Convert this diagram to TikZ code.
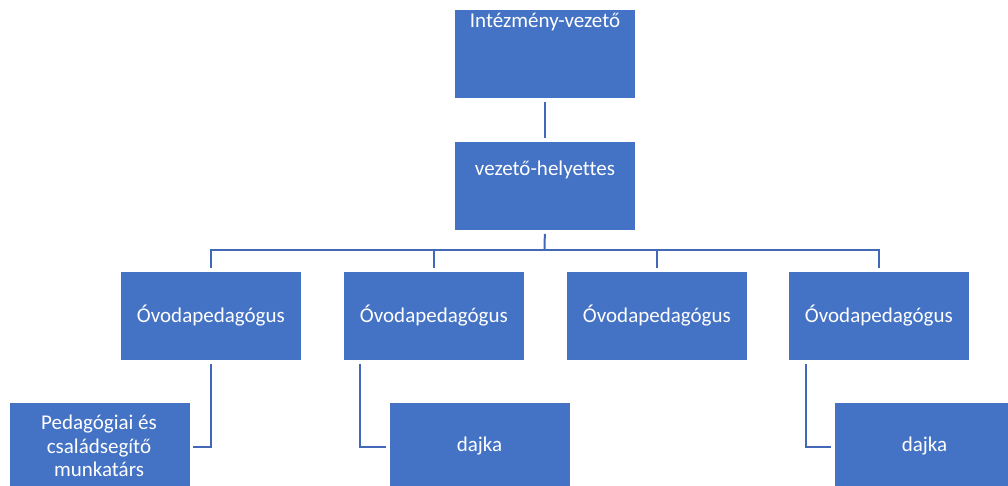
\documentclass[tikz,border=0pt]{standalone}
\usepackage{fontspec}
\setmainfont{Carlito}[Ligatures={NoCommon}]
\definecolor{boxblue}{HTML}{4472C4}
\definecolor{lineblue}{HTML}{4169B8}
\tikzset{
  orgbox/.style={draw=white, line width=0.8pt, fill=boxblue, minimum width=181pt, minimum height=89pt, inner sep=0pt, anchor=north west},
  boxtext/.style={text=white, font=\fontsize{21}{24}\selectfont, align=center, inner sep=0pt},
  conn/.style={draw=lineblue, line width=2pt}
}
\begin{document}
\begin{tikzpicture}[x=1pt,y=-1pt]
\useasboundingbox (0,0) rectangle (1008,486);
\clip (0,0) rectangle (1008,486);
% boxes
\node[orgbox] (top) at (454,9.5) {};
\node[orgbox] (vh) at (454,141) {};
\node[orgbox] (o1) at (120,271) {};
\node[orgbox] (o2) at (343,271) {};
\node[orgbox] (o3) at (566,271) {};
\node[orgbox] (o4) at (788,271) {};
\node[orgbox] (p1) at (8.5,402) {};
\node[orgbox] (d1) at (389,402) {};
\node[orgbox] (d2) at (834,402) {};
% texts
\node[boxtext] (ttop) at (545,22) {Intézmény-vezető};
\node[boxtext] (tvh) at (545,170) {vezető-helyettes};
\node[boxtext] (to1) at (o1.center) {Óvodapedagógus};
\node[boxtext] (to2) at (o2.center) {Óvodapedagógus};
\node[boxtext] (to3) at (o3.center) {Óvodapedagógus};
\node[boxtext] (to4) at (o4.center) {Óvodapedagógus};
\node[boxtext, font=\fontsize{21}{23.5}\selectfont] (tp1) at (99,446) {Pedagógiai és\\családsegítő\\munkatárs};
\node[boxtext] (td1) at (479.5,446) {dajka};
\node[boxtext] (td2) at (924.5,446) {dajka};
% connectors
\coordinate (bus) at (544.5,250);
\draw[conn, shorten <=3pt, shorten >=3pt] (top.south) -- (vh.north);
\draw[conn, shorten <=3pt] (vh.south) -- (bus);
\draw[conn, shorten <=3pt, shorten >=3pt] (o1.north) |- (bus) -| (o4.north);
\draw[conn, shorten >=3pt] (bus -| o2.north) -- (o2.north);
\draw[conn, shorten >=3pt] (bus -| o3.north) -- (o3.north);
\coordinate (c1) at (210.5,446.5);
\coordinate (c2) at (360,446.5);
\coordinate (c3) at (805.5,446.5);
\draw[conn, shorten <=3pt, shorten >=3pt] (o1.south) |- (p1.east);
\draw[conn, shorten <=3pt, shorten >=3pt] (o2.south -| c2) |- (d1.west);
\draw[conn, shorten <=3pt, shorten >=3pt] (o4.south -| c3) |- (d2.west);
\end{tikzpicture}
\end{document}
